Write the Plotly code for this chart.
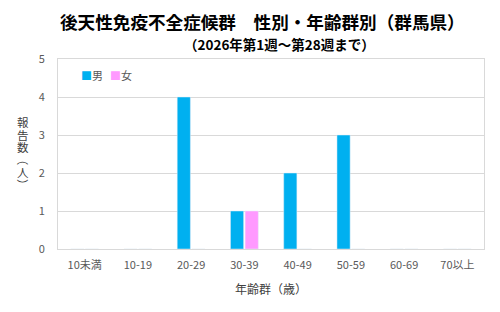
import plotly.graph_objects as go

categories = ["10未満", "10-19", "20-29", "30-39", "40-49", "50-59", "60-69", "70以上"]
male = [0, 0, 4, 1, 2, 3, 0, 0]
female = [0, 0, 0, 1, 0, 0, 0, 0]
series_names = ["男", "女"]
series_colors = ["#00B0F0", "#FF99FF"]
ytitle_chars = ["報", "告", "数", "（", "人", "）"]

FONT = "Noto Sans CJK JP"

fig = go.Figure()
fig.add_trace(go.Bar(x=categories, y=male, name=series_names[0], marker_color=series_colors[0]))
fig.add_trace(go.Bar(x=categories, y=female, name=series_names[1], marker_color=series_colors[1]))

fig.update_layout(
    width=500, height=312,
    margin=dict(l=58, r=16, t=59, b=63),
    paper_bgcolor="white", plot_bgcolor="white",
    barmode="group", bargap=0.45, bargroupgap=0.1,
    font=dict(family=FONT, color="#595959", size=11),
    showlegend=False,
)
fig.update_xaxes(
    type="category", showgrid=False, showline=True, linecolor="#D9D9D9", mirror=True,
    ticks="", ticklabelstandoff=6, tickfont=dict(size=11, color="#595959"),
    title=dict(text="年齢群（歳）", font=dict(size=12, color="#404040"), standoff=14),
)
fig.update_yaxes(
    range=[0, 5], dtick=1, showgrid=True, gridcolor="#D9D9D9", gridwidth=1,
    showline=True, linecolor="#D9D9D9", mirror=True, zeroline=False,
    ticks="", ticklabelstandoff=10, tickfont=dict(size=11, color="#595959"),
)

# legend drawn as text
for i, (nm, col) in enumerate(zip(series_names, series_colors)):
    fig.add_annotation(
        text=f"<span style='color:{col}'>■</span>{nm}",
        xref="paper", yref="paper", x=0.05 + i * 0.068, y=0.915,
        xanchor="left", yanchor="middle", showarrow=False,
        font=dict(size=11, color="#595959", family=FONT))

fig.add_annotation(text="<b>後天性免疫不全症候群　性別・年齢群別（群馬県）</b>",
                   xref="paper", yref="paper", x=0.46, xshift=9, y=1.0, yshift=38,
                   xanchor="center", yanchor="middle", showarrow=False,
                   font=dict(size=17.6, color="#000000", family=FONT))
fig.add_annotation(text="<b>（2026年第1週～第28週まで）</b>",
                   xref="paper", yref="paper", x=0.52, y=1.0, yshift=15,
                   xanchor="center", yanchor="middle", showarrow=False,
                   font=dict(size=13.5, color="#000000", family=FONT))

for i, ch in enumerate(ytitle_chars):
    rot = 90 if ch in ("（", "）") else 0
    fig.add_annotation(text=ch, textangle=rot,
                       xref="paper", yref="paper", x=0, xshift=-35,
                       y=(127 - 12.6 * i) / 190,
                       xanchor="center", yanchor="middle", showarrow=False,
                       font=dict(size=11.5, color="#404040", family=FONT))

fig.write_html("out.html")
